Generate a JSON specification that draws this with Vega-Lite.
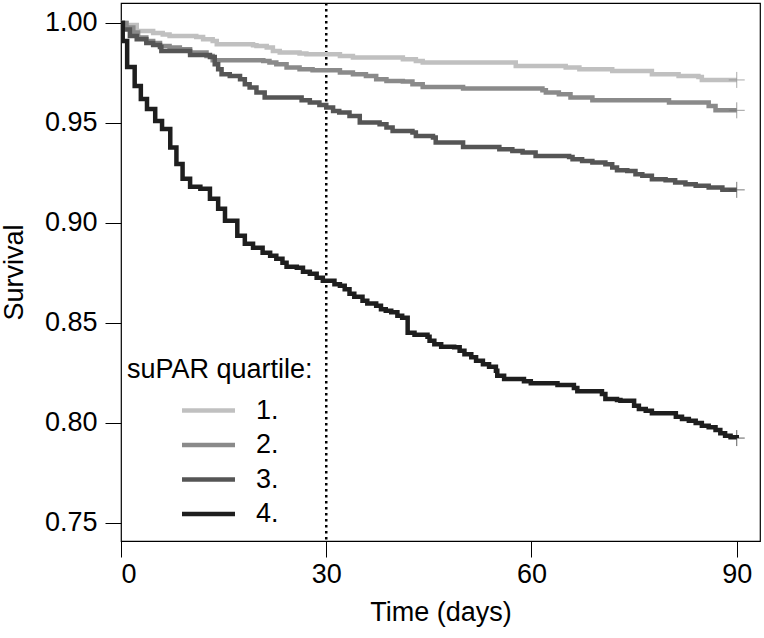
{
  "$schema": "https://vega.github.io/schema/vega-lite/v6.json",
  "width": 639,
  "height": 538,
  "autosize": {"type": "none"},
  "padding": {"left": 121, "top": 3, "right": 4, "bottom": 97},
  "background": "white",
  "config": {
    "font": "Liberation Sans",
    "view": {"stroke": "black", "strokeWidth": 1.2},
    "axis": {
      "grid": false,
      "domain": false,
      "tickColor": "black",
      "tickSize": 16,
      "tickWidth": 1,
      "labelColor": "black",
      "labelFontSize": 27,
      "titleColor": "black",
      "titleFontSize": 27,
      "titleFontWeight": "normal"
    }
  },
  "datasets": {
    "curves": [
      {"q": "1.", "t": 0, "s": 1.0},
      {"q": "1.", "t": 0.8, "s": 0.999},
      {"q": "1.", "t": 2.3, "s": 0.996},
      {"q": "1.", "t": 4.7, "s": 0.995},
      {"q": "1.", "t": 6.1, "s": 0.9943},
      {"q": "1.", "t": 7.1, "s": 0.9935},
      {"q": "1.", "t": 11, "s": 0.993},
      {"q": "1.", "t": 12, "s": 0.9918},
      {"q": "1.", "t": 13.4, "s": 0.991},
      {"q": "1.", "t": 14, "s": 0.9893},
      {"q": "1.", "t": 19.3, "s": 0.9888},
      {"q": "1.", "t": 19.8, "s": 0.9885},
      {"q": "1.", "t": 21.3, "s": 0.9877},
      {"q": "1.", "t": 22.2, "s": 0.986},
      {"q": "1.", "t": 23.2, "s": 0.9852},
      {"q": "1.", "t": 26.1, "s": 0.9847},
      {"q": "1.", "t": 27.1, "s": 0.9843},
      {"q": "1.", "t": 32, "s": 0.9835},
      {"q": "1.", "t": 33.9, "s": 0.9827},
      {"q": "1.", "t": 41.2, "s": 0.9818},
      {"q": "1.", "t": 43.1, "s": 0.981},
      {"q": "1.", "t": 44.1, "s": 0.9802},
      {"q": "1.", "t": 57.7, "s": 0.9785},
      {"q": "1.", "t": 65, "s": 0.9777},
      {"q": "1.", "t": 67, "s": 0.9768},
      {"q": "1.", "t": 71.8, "s": 0.976},
      {"q": "1.", "t": 77.6, "s": 0.9743},
      {"q": "1.", "t": 81.5, "s": 0.9735},
      {"q": "1.", "t": 84.4, "s": 0.973},
      {"q": "1.", "t": 84.9, "s": 0.9715},
      {"q": "1.", "t": 90, "s": 0.9715},
      {"q": "2.", "t": 0, "s": 1.0},
      {"q": "2.", "t": 0.8, "s": 0.9977},
      {"q": "2.", "t": 1.8, "s": 0.9952},
      {"q": "2.", "t": 2.5, "s": 0.9927},
      {"q": "2.", "t": 3.7, "s": 0.991},
      {"q": "2.", "t": 4.7, "s": 0.99},
      {"q": "2.", "t": 5.7, "s": 0.9885},
      {"q": "2.", "t": 7.1, "s": 0.9877},
      {"q": "2.", "t": 8.6, "s": 0.9868},
      {"q": "2.", "t": 10.1, "s": 0.9852},
      {"q": "2.", "t": 12.5, "s": 0.9835},
      {"q": "2.", "t": 13.4, "s": 0.9813},
      {"q": "2.", "t": 20.8, "s": 0.981},
      {"q": "2.", "t": 21.7, "s": 0.9802},
      {"q": "2.", "t": 22.7, "s": 0.9793},
      {"q": "2.", "t": 24.2, "s": 0.9777},
      {"q": "2.", "t": 26.1, "s": 0.9768},
      {"q": "2.", "t": 28, "s": 0.9763},
      {"q": "2.", "t": 32, "s": 0.9752},
      {"q": "2.", "t": 33.9, "s": 0.9743},
      {"q": "2.", "t": 35.8, "s": 0.9735},
      {"q": "2.", "t": 37.3, "s": 0.9718},
      {"q": "2.", "t": 38.8, "s": 0.971},
      {"q": "2.", "t": 41.2, "s": 0.9707},
      {"q": "2.", "t": 42.6, "s": 0.9693},
      {"q": "2.", "t": 44.1, "s": 0.968},
      {"q": "2.", "t": 50, "s": 0.9672},
      {"q": "2.", "t": 61.6, "s": 0.9663},
      {"q": "2.", "t": 62.1, "s": 0.9652},
      {"q": "2.", "t": 64, "s": 0.9643},
      {"q": "2.", "t": 65.7, "s": 0.9627},
      {"q": "2.", "t": 68.9, "s": 0.9613},
      {"q": "2.", "t": 80.1, "s": 0.9602},
      {"q": "2.", "t": 85.9, "s": 0.9585},
      {"q": "2.", "t": 86.9, "s": 0.9563},
      {"q": "2.", "t": 90, "s": 0.9563},
      {"q": "3.", "t": 0, "s": 1.0},
      {"q": "3.", "t": 0.3, "s": 0.9968},
      {"q": "3.", "t": 1.3, "s": 0.9935},
      {"q": "3.", "t": 2.3, "s": 0.9918},
      {"q": "3.", "t": 3.7, "s": 0.99},
      {"q": "3.", "t": 4.7, "s": 0.989},
      {"q": "3.", "t": 5.7, "s": 0.988},
      {"q": "3.", "t": 5.9, "s": 0.986},
      {"q": "3.", "t": 10.1, "s": 0.984},
      {"q": "3.", "t": 13, "s": 0.983},
      {"q": "3.", "t": 13.7, "s": 0.9793},
      {"q": "3.", "t": 14.2, "s": 0.9768},
      {"q": "3.", "t": 14.7, "s": 0.9743},
      {"q": "3.", "t": 15.9, "s": 0.9735},
      {"q": "3.", "t": 17.4, "s": 0.9718},
      {"q": "3.", "t": 18.1, "s": 0.9693},
      {"q": "3.", "t": 18.8, "s": 0.9677},
      {"q": "3.", "t": 19.8, "s": 0.9652},
      {"q": "3.", "t": 21, "s": 0.9627},
      {"q": "3.", "t": 26.4, "s": 0.9613},
      {"q": "3.", "t": 27.6, "s": 0.9602},
      {"q": "3.", "t": 29, "s": 0.959},
      {"q": "3.", "t": 30, "s": 0.9577},
      {"q": "3.", "t": 31, "s": 0.956},
      {"q": "3.", "t": 31.9, "s": 0.9552},
      {"q": "3.", "t": 33.4, "s": 0.9535},
      {"q": "3.", "t": 34.9, "s": 0.9502},
      {"q": "3.", "t": 37.8, "s": 0.9493},
      {"q": "3.", "t": 38.8, "s": 0.9477},
      {"q": "3.", "t": 39.7, "s": 0.946},
      {"q": "3.", "t": 42.6, "s": 0.9452},
      {"q": "3.", "t": 43.1, "s": 0.9435},
      {"q": "3.", "t": 45.6, "s": 0.9427},
      {"q": "3.", "t": 46, "s": 0.9402},
      {"q": "3.", "t": 50, "s": 0.938},
      {"q": "3.", "t": 55.3, "s": 0.9368},
      {"q": "3.", "t": 57.2, "s": 0.936},
      {"q": "3.", "t": 58.7, "s": 0.9352},
      {"q": "3.", "t": 60.6, "s": 0.9335},
      {"q": "3.", "t": 65.5, "s": 0.933},
      {"q": "3.", "t": 66, "s": 0.9318},
      {"q": "3.", "t": 67.4, "s": 0.931},
      {"q": "3.", "t": 68.9, "s": 0.9302},
      {"q": "3.", "t": 70.8, "s": 0.9293},
      {"q": "3.", "t": 71.8, "s": 0.9277},
      {"q": "3.", "t": 72.5, "s": 0.9263},
      {"q": "3.", "t": 74, "s": 0.926},
      {"q": "3.", "t": 75.2, "s": 0.9243},
      {"q": "3.", "t": 76.2, "s": 0.9235},
      {"q": "3.", "t": 77.6, "s": 0.9218},
      {"q": "3.", "t": 79.6, "s": 0.9213},
      {"q": "3.", "t": 81, "s": 0.9202},
      {"q": "3.", "t": 82.5, "s": 0.9193},
      {"q": "3.", "t": 84, "s": 0.9185},
      {"q": "3.", "t": 85.9, "s": 0.9177},
      {"q": "3.", "t": 87.9, "s": 0.9165},
      {"q": "3.", "t": 90, "s": 0.9165},
      {"q": "4.", "t": 0, "s": 1.0},
      {"q": "4.", "t": 0.25, "s": 0.991},
      {"q": "4.", "t": 0.9, "s": 0.978},
      {"q": "4.", "t": 2, "s": 0.9685},
      {"q": "4.", "t": 2.9, "s": 0.962},
      {"q": "4.", "t": 3.8, "s": 0.957},
      {"q": "4.", "t": 5, "s": 0.951},
      {"q": "4.", "t": 6, "s": 0.947},
      {"q": "4.", "t": 7.2, "s": 0.9377},
      {"q": "4.", "t": 8.1, "s": 0.9295},
      {"q": "4.", "t": 9, "s": 0.922},
      {"q": "4.", "t": 10.1, "s": 0.918},
      {"q": "4.", "t": 11.6, "s": 0.917},
      {"q": "4.", "t": 13, "s": 0.912},
      {"q": "4.", "t": 14.2, "s": 0.907},
      {"q": "4.", "t": 15.2, "s": 0.901},
      {"q": "4.", "t": 17, "s": 0.8935},
      {"q": "4.", "t": 18.1, "s": 0.8895},
      {"q": "4.", "t": 19.3, "s": 0.8875},
      {"q": "4.", "t": 20.7, "s": 0.885},
      {"q": "4.", "t": 21.8, "s": 0.8835},
      {"q": "4.", "t": 22.7, "s": 0.882},
      {"q": "4.", "t": 23.6, "s": 0.88},
      {"q": "4.", "t": 24.2, "s": 0.878},
      {"q": "4.", "t": 25.7, "s": 0.8775},
      {"q": "4.", "t": 26.6, "s": 0.8755},
      {"q": "4.", "t": 27.6, "s": 0.8745},
      {"q": "4.", "t": 28.6, "s": 0.8725},
      {"q": "4.", "t": 29.5, "s": 0.871},
      {"q": "4.", "t": 31.2, "s": 0.8693},
      {"q": "4.", "t": 32, "s": 0.8685},
      {"q": "4.", "t": 32.7, "s": 0.8668},
      {"q": "4.", "t": 33.4, "s": 0.8645},
      {"q": "4.", "t": 34.1, "s": 0.863},
      {"q": "4.", "t": 35.3, "s": 0.861},
      {"q": "4.", "t": 36, "s": 0.8597},
      {"q": "4.", "t": 37.3, "s": 0.8585},
      {"q": "4.", "t": 38, "s": 0.8568},
      {"q": "4.", "t": 38.7, "s": 0.856},
      {"q": "4.", "t": 39.5, "s": 0.8552},
      {"q": "4.", "t": 40.4, "s": 0.8535},
      {"q": "4.", "t": 41.1, "s": 0.8525},
      {"q": "4.", "t": 41.9, "s": 0.845},
      {"q": "4.", "t": 42.9, "s": 0.844},
      {"q": "4.", "t": 44.8, "s": 0.843},
      {"q": "4.", "t": 45.1, "s": 0.841},
      {"q": "4.", "t": 45.8, "s": 0.8393},
      {"q": "4.", "t": 46.8, "s": 0.838},
      {"q": "4.", "t": 48.7, "s": 0.8377},
      {"q": "4.", "t": 49.5, "s": 0.836},
      {"q": "4.", "t": 50.2, "s": 0.8343},
      {"q": "4.", "t": 51.2, "s": 0.8327},
      {"q": "4.", "t": 51.9, "s": 0.831},
      {"q": "4.", "t": 52.9, "s": 0.8293},
      {"q": "4.", "t": 53.8, "s": 0.828},
      {"q": "4.", "t": 54.8, "s": 0.826},
      {"q": "4.", "t": 55, "s": 0.8235},
      {"q": "4.", "t": 56, "s": 0.8218},
      {"q": "4.", "t": 58.9, "s": 0.8207},
      {"q": "4.", "t": 59.9, "s": 0.8197},
      {"q": "4.", "t": 63.8, "s": 0.8188},
      {"q": "4.", "t": 66.2, "s": 0.8173},
      {"q": "4.", "t": 66.7, "s": 0.8157},
      {"q": "4.", "t": 70.3, "s": 0.8143},
      {"q": "4.", "t": 70.8, "s": 0.8118},
      {"q": "4.", "t": 72.5, "s": 0.8113},
      {"q": "4.", "t": 73, "s": 0.811},
      {"q": "4.", "t": 75, "s": 0.8085},
      {"q": "4.", "t": 75.7, "s": 0.8068},
      {"q": "4.", "t": 76.7, "s": 0.806},
      {"q": "4.", "t": 77.6, "s": 0.8047},
      {"q": "4.", "t": 81.1, "s": 0.803},
      {"q": "4.", "t": 82, "s": 0.8018},
      {"q": "4.", "t": 83, "s": 0.801},
      {"q": "4.", "t": 84, "s": 0.7998},
      {"q": "4.", "t": 84.9, "s": 0.7985},
      {"q": "4.", "t": 85.9, "s": 0.7977},
      {"q": "4.", "t": 86.9, "s": 0.7963},
      {"q": "4.", "t": 87.6, "s": 0.7947},
      {"q": "4.", "t": 88.3, "s": 0.7935},
      {"q": "4.", "t": 89.1, "s": 0.7927},
      {"q": "4.", "t": 90, "s": 0.7923}
    ],
    "censored": [
      {"q": "1.", "t": 90, "s": 0.9715},
      {"q": "2.", "t": 90, "s": 0.9563},
      {"q": "3.", "t": 90, "s": 0.9165},
      {"q": "4.", "t": 90, "s": 0.7923}
    ],
    "cutoff": [{"t": 30}]
  },
  "layer": [
    {
      "data": {"name": "cutoff"},
      "mark": {"type": "rule", "color": "black", "strokeWidth": 2.5, "strokeDash": [2.5, 3.5]},
      "encoding": {
        "x": {"field": "t", "type": "quantitative", "scale": {"domain": [0, 93.4], "nice": false, "zero": false}}
      }
    },
    {
      "data": {"name": "curves"},
      "mark": {"type": "line", "interpolate": "step-after", "strokeWidth": 4.5, "clip": true},
      "encoding": {
        "x": {
          "field": "t",
          "type": "quantitative",
          "scale": {"domain": [0, 93.4], "nice": false, "zero": false},
          "axis": {"values": [0, 30, 60, 90], "labelPadding": 4, "titlePadding": 12},
          "title": "Time (days)"
        },
        "y": {
          "field": "s",
          "type": "quantitative",
          "scale": {"domain": [0.7408, 1.01], "nice": false, "zero": false},
          "axis": {"values": [0.75, 0.8, 0.85, 0.9, 0.95, 1.0], "format": ".2f", "labelPadding": 8, "titlePadding": 16},
          "title": "Survival"
        },
        "color": {
          "field": "q",
          "type": "nominal",
          "scale": {"domain": ["1.", "2.", "3.", "4."], "range": ["#c0c0c0", "#8a8a8a", "#555555", "#1e1e1e"]},
          "legend": {
            "title": "suPAR quartile:",
            "orient": "none",
            "legendX": 6,
            "legendY": 354,
            "titleFontSize": 27,
            "titleFontWeight": "normal",
            "titleColor": "black",
            "titleLimit": 400,
            "titlePadding": 11,
            "labelFontSize": 27,
            "labelColor": "black",
            "symbolType": "M-2,0L2,0",
            "symbolSize": 702,
            "symbolStrokeWidth": 4.5,
            "symbolOffset": 66,
            "labelOffset": 32,
            "rowPadding": 5.5
          }
        },
        "detail": {"field": "q"}
      }
    },
    {
      "data": {"name": "censored"},
      "mark": {"type": "point", "shape": "M-1,0L1,0M0,-1L0,1", "size": 256, "filled": false, "strokeWidth": 1},
      "encoding": {
        "x": {"field": "t", "type": "quantitative"},
        "y": {"field": "s", "type": "quantitative"},
        "stroke": {
          "field": "q",
          "type": "nominal",
          "scale": {"domain": ["1.", "2.", "3.", "4."], "range": ["#888888", "#777777", "#444444", "#1e1e1e"]},
          "legend": null
        }
      }
    }
  ]
}
